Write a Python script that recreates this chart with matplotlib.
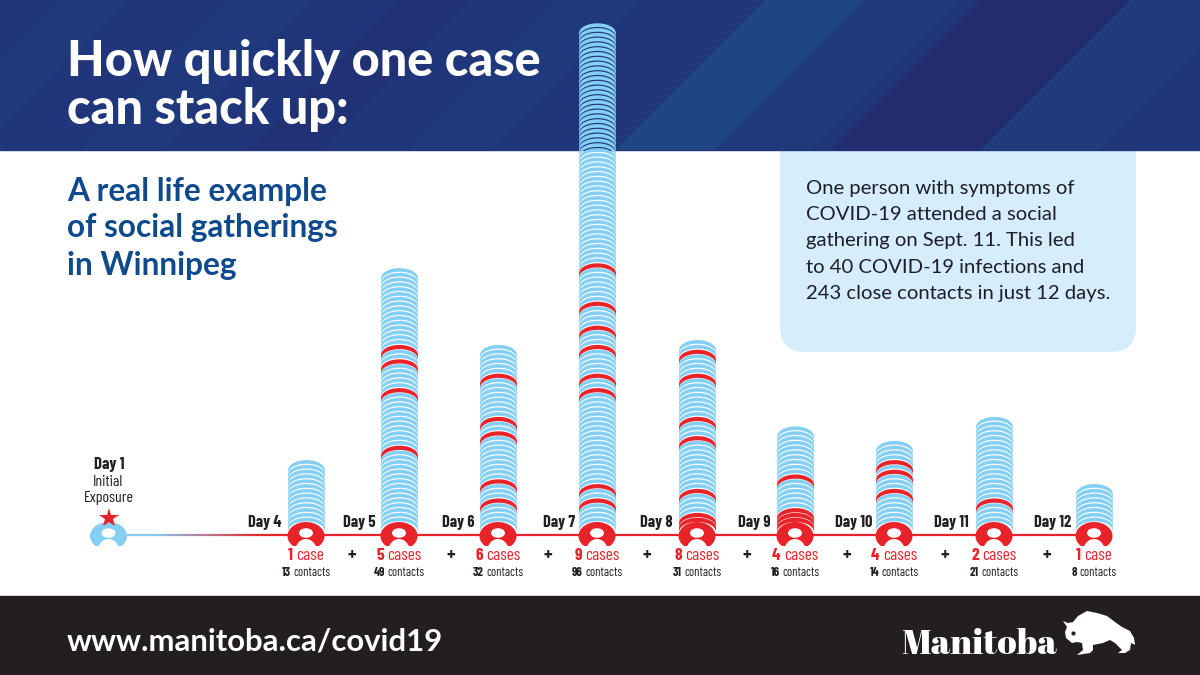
#!/usr/bin/env python3
# -*- coding: utf-8 -*-
"""How quickly one case can stack up - Manitoba infographic"""

import numpy as np
import matplotlib
matplotlib.use('Agg')
import matplotlib.pyplot as plt
from matplotlib.patches import Ellipse, FancyBboxPatch, Polygon, Rectangle
from matplotlib.collections import LineCollection

plt.rcParams['font.family'] = ['Lato', 'DejaVu Sans']
NARROW = ['Barlow Condensed', 'Lato', 'DejaVu Sans']

# one entry per day on the timeline
days = ['Day 4', 'Day 5', 'Day 6', 'Day 7', 'Day 8', 'Day 9', 'Day 10', 'Day 11', 'Day 12']
cases = [1, 5, 6, 9, 8, 4, 4, 2, 1]
contacts = [13, 49, 32, 96, 31, 16, 14, 21, 8]
# which discs are red, counted up from the person at the base of each stack
red_discs = [
    [],
    [16, 28, 34, 37],
    [5, 9, 19, 22, 31],
    [5, 8, 28, 31, 37, 41, 46, 54],
    [1, 2, 7, 18, 22, 31, 36],
    [1, 2, 3, 10],
    [7, 11, 13],
    [5],
    [],
]

BLUE = '#84cff3'
RED = '#e8232a'
NAVY = '#20357a'
FOOTER = '#231f20'
BOX = '#d6eefb'
HEADING = '#0f4a8c'
INK = '#231f20'

stack_x = [306, 399, 498, 597, 697, 795, 894, 994, 1094]
day_right = [281, 376, 474, 575, 673, 771, 872, 969, 1071]
plus_x = [352, 451, 548, 647, 747, 847, 945, 1047]
base_y = 522
disc_step = 4.8
disc_thick = 3.6
red_thick = 4.2
disc_w = 37
disc_h = 10
line_y = 534.5

fig = plt.figure(figsize=(12, 6.75), dpi=100)
ax = fig.add_axes([0, 0, 1, 1])
ax.set_xlim(0, 1200)
ax.set_ylim(675, 0)
ax.axis('off')

# footer and text box
ax.add_patch(Rectangle((0, 596), 1200, 79, color=FOOTER, zorder=0))
ax.add_patch(FancyBboxPatch((780, 100), 356, 252, boxstyle='round,pad=0,rounding_size=25',
                            color=BOX, lw=0, zorder=0.2))

# banner with diagonal stripes
ax.add_patch(Rectangle((0, 0), 1200, 150, color=NAVY, zorder=0.3))
stripes = [
    (60, 130, '#1f4280', 0.35), (230, 310, '#1f4280', 0.35), (400, 470, '#20306f', 0.5),
    (560, 640, '#1f4280', 0.4), (765, 865, '#1f4a86', 0.8), (865, 960, '#1f4280', 0.4),
    (980, 1130, '#232c6e', 0.9), (1130, 1250, '#1f3f80', 0.5),
]
for left, right, col, alpha in stripes:
    ax.add_patch(Polygon([(left, 0), (right, 0), (right - 150, 150), (left - 150, 150)],
                         color=col, alpha=alpha, lw=0, zorder=0.5))

# timeline
ax.plot([stack_x[0], stack_x[-1]], [line_y, line_y], color=RED, lw=1.6, zorder=1)
xs = np.linspace(125, 290, 60)
mix = np.clip((xs - 150) / 110, 0, 1)
c0 = np.array(matplotlib.colors.to_rgb(BLUE))
c1 = np.array(matplotlib.colors.to_rgb(RED))
segs = [[(xs[i], line_y), (xs[i + 1], line_y)] for i in range(len(xs) - 1)]
ax.add_collection(LineCollection(segs, colors=[c0 + (c1 - c0) * m for m in mix[:-1]], lw=1.6, zorder=1))


def draw_person(x, col):
    ax.add_patch(Ellipse((x, 536), disc_w, 28, color=col, lw=0, zorder=3))
    ax.add_patch(Ellipse((x, 533), 14, 9.5, color='white', lw=0, zorder=4))
    ax.add_patch(Ellipse((x, 552), 22, 26, color='white', lw=0, zorder=4))
    ax.add_patch(Rectangle((x - 20, 546), 40, 6, color='white', lw=0, zorder=4))


def draw_stack(x, n_discs, reds):
    u = np.linspace(-1, 1, 61)
    dome = disc_h * (1 - np.sqrt(1 - u ** 2))
    for i in range(1, n_discs + 1):
        top = base_y - i * disc_step + dome
        if i in reds:
            ax.fill_between(x + u * disc_w / 2, top, top + red_thick, lw=0, zorder=2.1, color=RED)
        else:
            ax.fill_between(x + u * disc_w / 2, top, top + disc_thick, lw=0, zorder=2, color=BLUE)


def two_part(x, y, bold, plain, col, size):
    """centre a bold number followed by a regular word on x"""
    r = fig.canvas.get_renderer()
    t1 = ax.text(0, y, bold, fontsize=size, fontweight='bold', color=col, family=NARROW,
                 va='center', ha='left', zorder=5)
    t2 = ax.text(0, y, plain, fontsize=size, color=col, family=NARROW,
                 va='center', ha='left', zorder=5)
    w1 = t1.get_window_extent(r).width
    w2 = t2.get_window_extent(r).width
    gap = size * 0.28
    left = x - (w1 + gap + w2) / 2
    t1.set_x(left)
    t2.set_x(left + w1 + gap)


for i, day in enumerate(days):
    x = stack_x[i]
    draw_stack(x, contacts[i] + len(red_discs[i]), red_discs[i])
    draw_person(x, RED)
    ax.text(day_right[i], 522, day, fontsize=11.8, fontweight='bold', color=INK,
            family=NARROW, ha='right', va='center', zorder=5)
    word = 'case' if cases[i] == 1 else 'cases'
    two_part(x, 555, str(cases[i]), word, RED, 12.5)
    two_part(x, 572, str(contacts[i]), 'contacts', INK, 9)

for x in plus_x:
    ax.text(x, 555, '+', fontsize=14, fontweight='bold', color=INK, family=NARROW,
            ha='center', va='center', zorder=5)

# day 1
draw_person(108.5, BLUE)
ax.plot([108.5], [518], marker='*', ms=15, color=RED, mew=0, zorder=5)
ax.text(109, 465, 'Day 1', fontsize=12, fontweight='bold', color=INK, family=NARROW,
        ha='center', va='center')
ax.text(108, 482, 'Initial', fontsize=11.5, color=INK, family=NARROW, ha='center', va='center')
ax.text(109, 498, 'Exposure', fontsize=11.5, color=INK, family=NARROW, ha='center', va='center')

# headings
ax.text(67, 76, 'How quickly one case', fontsize=35, fontweight='black', color='white', va='baseline')
ax.text(67, 124, 'can stack up:', fontsize=35, fontweight='black', color='white', va='baseline')
sub_lines = ['A real life example', 'of social gatherings', 'in Winnipeg']
for line, y in zip(sub_lines, [200.5, 237.5, 275]):
    ax.text(67, y, line, fontsize=22.8, fontweight='bold', color=HEADING, va='baseline')

box_lines = ['One person with symptoms of', 'COVID-19 attended a social', 'gathering on Sept. 11. This led',
             'to 40 COVID-19 infections and', '243 close contacts in just 12 days.']
for line, y in zip(box_lines, [194, 220, 246, 273, 299]):
    ax.text(806, y, line, fontsize=14.6, color='#1d1d2b', va='baseline')

# footer
ax.text(67, 650, 'www.manitoba.ca/covid19', fontsize=22.4, fontweight='bold', color='white', va='baseline')
ax.text(901, 654, 'Manitoba', fontsize=25.5, color='white', va='baseline',
        family=['Abril Fatface', 'Liberation Serif', 'DejaVu Serif'])

# bison
bison = [(1063, 621), (1068, 623), (1073, 622), (1078, 616), (1087, 611), (1097, 613), (1107, 616),
         (1115, 622), (1122, 627), (1130, 631), (1134, 638), (1135, 645), (1131, 643), (1130, 650),
         (1125, 653), (1118, 653), (1122, 650), (1115, 643), (1110, 640), (1103, 643), (1093, 645),
         (1093, 650), (1090, 653), (1077, 655), (1083, 650), (1082, 643), (1077, 642), (1072, 643),
         (1066, 638), (1065, 632), (1067, 627)]
ax.add_patch(Polygon(bison, color='white', lw=0, zorder=5))
ax.plot([1072.5], [633], marker='o', ms=2, color=FOOTER, zorder=6)

fig.savefig('out.png', dpi=100)
plt.close(fig)
